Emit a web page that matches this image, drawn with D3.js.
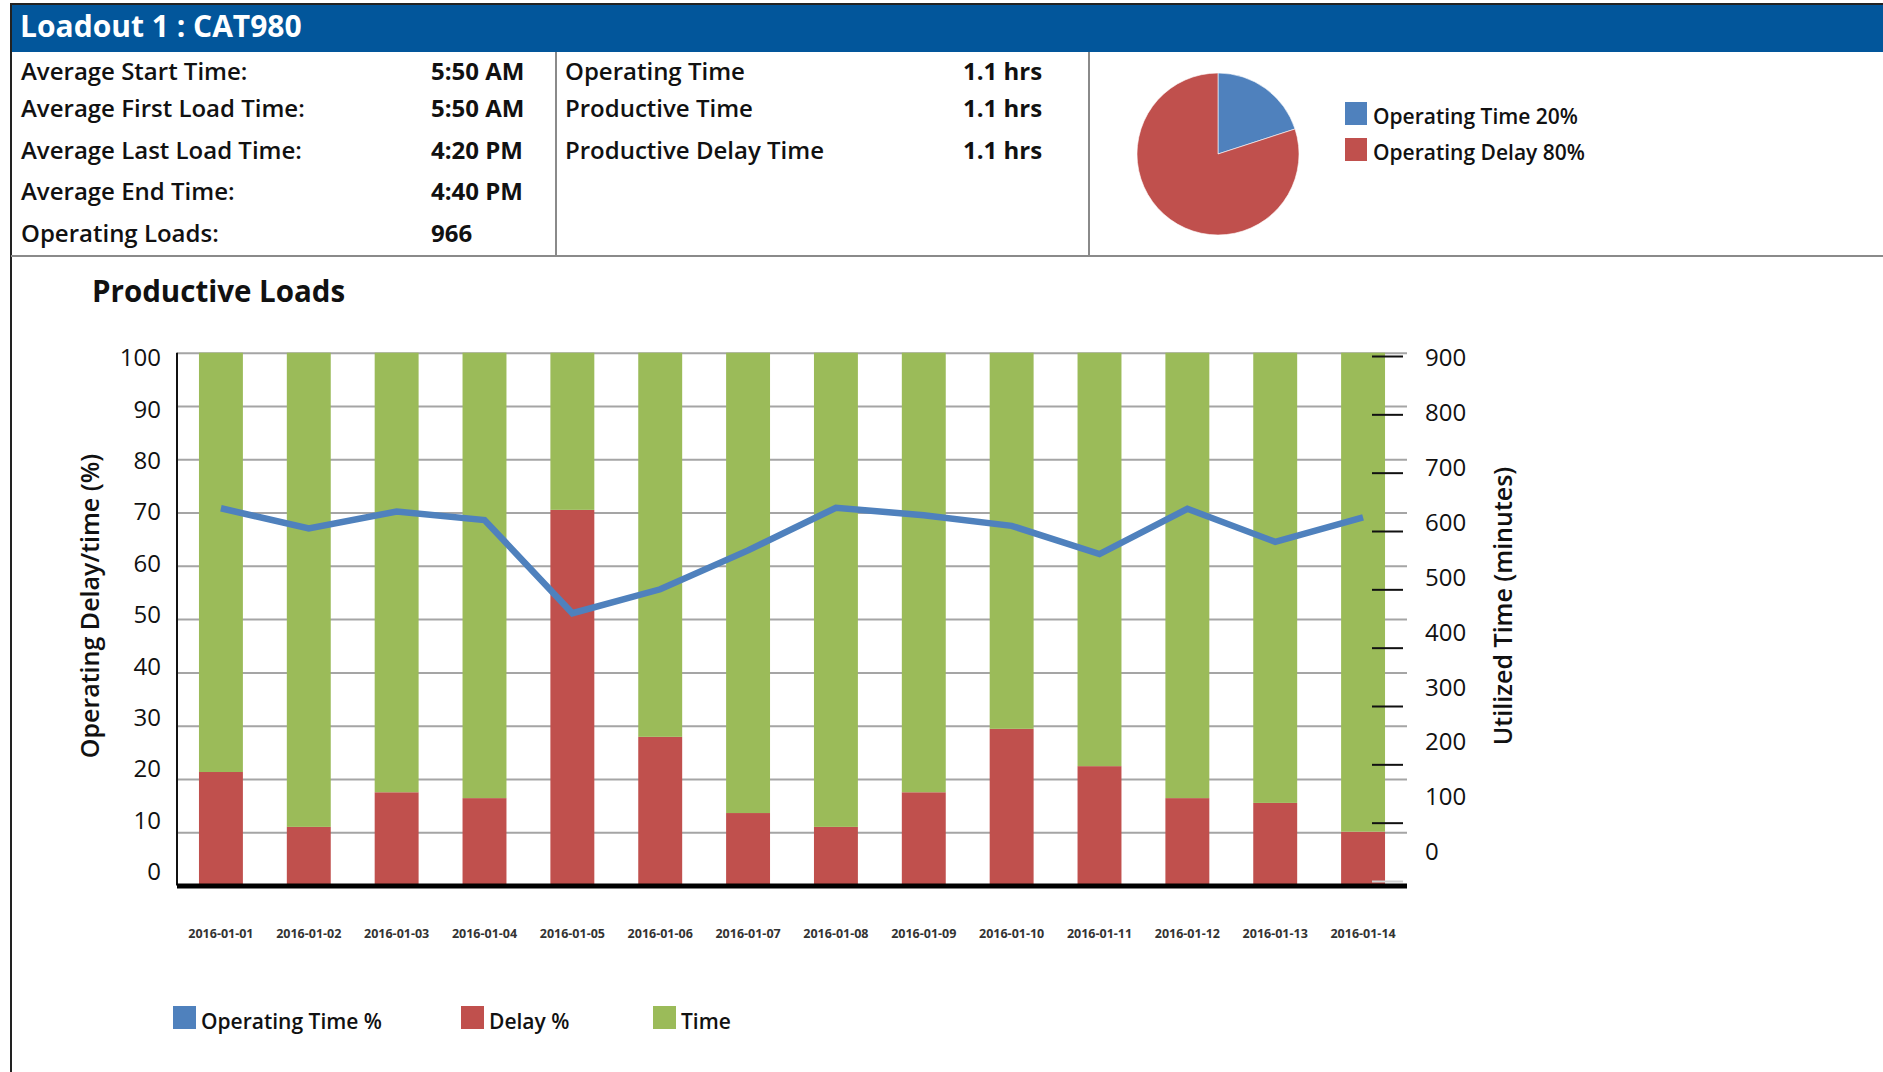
<!DOCTYPE html>
<html>
<head>
<meta charset="utf-8">
<script src="https://cdn.jsdelivr.net/npm/d3@7"></script>
<style>
  body { margin: 0; background: #fff; }
  svg { display: block; font-family: "Open Sans", sans-serif; }
</style>
</head>
<body>
<script>
const dates = ["2016-01-01", "2016-01-02", "2016-01-03", "2016-01-04", "2016-01-05", "2016-01-06", "2016-01-07",
  "2016-01-08", "2016-01-09", "2016-01-10", "2016-01-11", "2016-01-12", "2016-01-13", "2016-01-14"]
const delayPct = [21.3, 11.0, 17.5, 16.4, 70.5, 27.9, 13.6, 11.0, 17.5, 29.4, 22.4, 16.4, 15.5, 10.1]
const timePct = [78.7, 89.0, 82.5, 83.6, 29.5, 72.1, 86.4, 89.0, 82.5, 70.6, 77.6, 83.6, 84.5, 89.9]
const operatingPct = [70.8, 67.0, 70.2, 68.6, 51.1, 55.6, 62.9, 70.9, 69.5, 67.5, 62.2, 70.7, 64.5, 69.1]
const leftTicks = [0, 10, 20, 30, 40, 50, 60, 70, 80, 90, 100]
const rightTicks = [0, 100, 200, 300, 400, 500, 600, 700, 800, 900]

const statsLeft = [["Average Start Time:", "5:50 AM"], ["Average First Load Time:", "5:50 AM"],
  ["Average Last Load Time:", "4:20 PM"], ["Average End Time:", "4:40 PM"], ["Operating Loads:", "966"]]
const statsMid = [["Operating Time", "1.1 hrs"], ["Productive Time", "1.1 hrs"], ["Productive Delay Time", "1.1 hrs"]]
const pieLabels = ["Operating Time 20%", "Operating Delay 80%"]
const pieValues = [20, 80]
const legendLabels = ["Operating Time %", "Delay %", "Time"]

const BLUE = "#4f81bd", RED = "#c0504d", GREEN = "#9bbb59"

const width = 1883, height = 1072
const svg = d3.select("body").append("svg")
  .attr("width", width)
  .attr("height", height)

// ---- header + info panel
svg.append("rect")
  .attr("x", 11).attr("y", 5)
  .attr("width", width - 11).attr("height", 47)
  .attr("fill", "#02569b")
svg.append("text")
  .attr("x", 20).attr("y", 37)
  .attr("fill", "#fff")
  .attr("font-size", 30).attr("font-weight", 700)
  .text("Loadout 1 : CAT980")

svg.append("path")
  .attr("d", `M11,${height} V4 H${width}`)
  .attr("fill", "none").attr("stroke", "#222").attr("stroke-width", 2)

const panelLines = [[556, 52, 556, 256], [1089, 52, 1089, 256], [11, 256, width, 256]]
svg.selectAll(".panel-line")
  .data(panelLines)
  .join("line")
  .attr("class", "panel-line")
  .attr("x1", d => d[0]).attr("y1", d => d[1])
  .attr("x2", d => d[2]).attr("y2", d => d[3])
  .attr("stroke", "#8a8a8a").attr("stroke-width", 2)

const rowY = [80, 117, 159, 200, 242]
const statRows = (items, xLabel, xValue) => {
  const g = svg.append("g").attr("fill", "#111")
  items.forEach((d, i) => {
    g.append("text").attr("x", xLabel).attr("y", rowY[i])
      .attr("font-size", 24).attr("font-weight", 600).text(d[0])
    g.append("text").attr("x", xValue).attr("y", rowY[i])
      .attr("font-size", 24).attr("font-weight", 700).text(d[1])
  })
}
statRows(statsLeft, 21, 431)
statRows(statsMid, 565, 963)

// ---- pie
const pie = d3.pie().sort(null)
const arc = d3.arc().innerRadius(0).outerRadius(81)
const pieColors = [BLUE, RED]
svg.append("g")
  .attr("transform", "translate(1218,154)")
  .selectAll("path")
  .data(pie(pieValues))
  .join("path")
  .attr("d", arc)
  .attr("fill", (d, i) => pieColors[i])
  .attr("stroke", "#fff").attr("stroke-width", 0.6)

const pieLegend = svg.append("g").attr("font-size", 21).attr("fill", "#111")
pieLabels.forEach((t, i) => {
  pieLegend.append("rect")
    .attr("x", 1345).attr("y", 102 + i * 36)
    .attr("width", 22).attr("height", 23)
    .attr("fill", pieColors[i])
  pieLegend.append("text")
    .attr("x", 1373).attr("y", 124 + i * 36)
    .attr("font-weight", 600)
    .text(t)
})

// ---- bar/line chart
svg.append("text")
  .attr("x", 92).attr("y", 302)
  .attr("font-size", 29.5).attr("font-weight", 700)
  .attr("fill", "#111")
  .text("Productive Loads")

const plotLeft = 177, plotRight = 1407
const x = d3.scaleBand()
  .domain(dates)
  .range([plotLeft, plotRight])
  .paddingInner(0.5)
  .paddingOuter(0.25)
const y = d3.scaleLinear().domain([0, 100]).range([885.5, 352.7])
// tick labels in the reference sit on their own slightly shorter scales
const yLabel = d3.scaleLinear().domain([0, 100]).range([872, 358])
const yRight = d3.scaleLinear().domain([0, 900]).range([881, 356])
const yRightLabel = d3.scaleLinear().domain([0, 900]).range([852, 358])

const chart = svg.append("g")

// gridlines
chart.append("g")
  .attr("transform", `translate(${plotLeft},0)`)
  .call(d3.axisLeft(y).tickValues(leftTicks.slice(1)).tickSize(-(plotRight - plotLeft)).tickFormat(""))
  .call(g => g.select(".domain").remove())
  .call(g => g.selectAll("line").attr("stroke", "#a5a5a5").attr("stroke-width", 2))

// stacked bars
const rows = dates.map((d, i) => ({ date: d, delay: delayPct[i], time: timePct[i] }))
const stacked = d3.stack().keys(["delay", "time"])(rows)
const barColors = { delay: RED, time: GREEN }
chart.append("g")
  .selectAll("g")
  .data(stacked)
  .join("g")
  .attr("fill", s => barColors[s.key])
  .selectAll("rect")
  .data(s => s)
  .join("rect")
  .attr("x", d => x(d.data.date))
  .attr("y", d => y(d[1]))
  .attr("width", x.bandwidth())
  .attr("height", d => y(d[0]) - y(d[1]))

// left axis line + labels
chart.append("line")
  .attr("x1", plotLeft).attr("x2", plotLeft)
  .attr("y1", y(100)).attr("y2", y(0))
  .attr("stroke", "#111").attr("stroke-width", 2)
chart.append("g")
  .attr("transform", `translate(${plotLeft - 16},0)`)
  .call(d3.axisLeft(yLabel).tickValues(leftTicks).tickSize(0).tickPadding(0))
  .call(g => g.select(".domain").remove())
  .call(g => g.selectAll("text")
    .attr("font-family", "Open Sans, sans-serif")
    .attr("font-size", 24).attr("fill", "#111"))

// baseline
chart.append("line")
  .attr("x1", plotLeft).attr("x2", plotRight)
  .attr("y1", 886).attr("y2", 886)
  .attr("stroke", "#000").attr("stroke-width", 5)

// right axis ticks + labels
chart.append("g")
  .attr("transform", `translate(1372,0)`)
  .call(d3.axisRight(yRight).tickValues(rightTicks).tickSize(31).tickFormat(""))
  .call(g => g.select(".domain").remove())
  .call(g => g.selectAll("line")
    .attr("stroke", d => d === 0 ? "#d0d0d0" : "#111")
    .attr("stroke-width", 2))
chart.append("g")
  .attr("transform", `translate(1425,0)`)
  .call(d3.axisRight(yRightLabel).tickValues(rightTicks).tickSize(0).tickPadding(0))
  .call(g => g.select(".domain").remove())
  .call(g => g.selectAll("text")
    .attr("font-family", "Open Sans, sans-serif")
    .attr("font-size", 24).attr("fill", "#111"))

// operating time line
const line = d3.line()
  .x((d, i) => x(dates[i]) + x.bandwidth() / 2)
  .y(d => y(d))
chart.append("path")
  .attr("d", line(operatingPct))
  .attr("fill", "none")
  .attr("stroke", BLUE)
  .attr("stroke-width", 6.5)

// date labels
chart.append("g")
  .selectAll("text")
  .data(dates)
  .join("text")
  .attr("x", d => x(d) + x.bandwidth() / 2)
  .attr("y", 938)
  .attr("text-anchor", "middle")
  .attr("font-size", 12.5).attr("font-weight", 700)
  .attr("fill", "#333")
  .text(d => d)

// axis titles
svg.append("text")
  .attr("transform", "translate(99,606) rotate(-90)")
  .attr("text-anchor", "middle")
  .attr("font-size", 25).attr("font-weight", 600)
  .attr("fill", "#111")
  .text("Operating Delay/time (%)")
svg.append("text")
  .attr("transform", "translate(1512,606) rotate(-90)")
  .attr("text-anchor", "middle")
  .attr("font-size", 25).attr("font-weight", 600)
  .attr("fill", "#111")
  .text("Utilized Time (minutes)")

// bottom legend
const legendX = [173, 461, 653]
const legendColors = [BLUE, RED, GREEN]
const legend = svg.append("g").attr("font-size", 21).attr("fill", "#111")
legendLabels.forEach((t, i) => {
  legend.append("rect")
    .attr("x", legendX[i]).attr("y", 1006)
    .attr("width", 23).attr("height", 23)
    .attr("fill", legendColors[i])
  legend.append("text")
    .attr("x", legendX[i] + 28).attr("y", 1029)
    .attr("font-weight", 600)
    .text(t)
})
</script>
</body>
</html>
